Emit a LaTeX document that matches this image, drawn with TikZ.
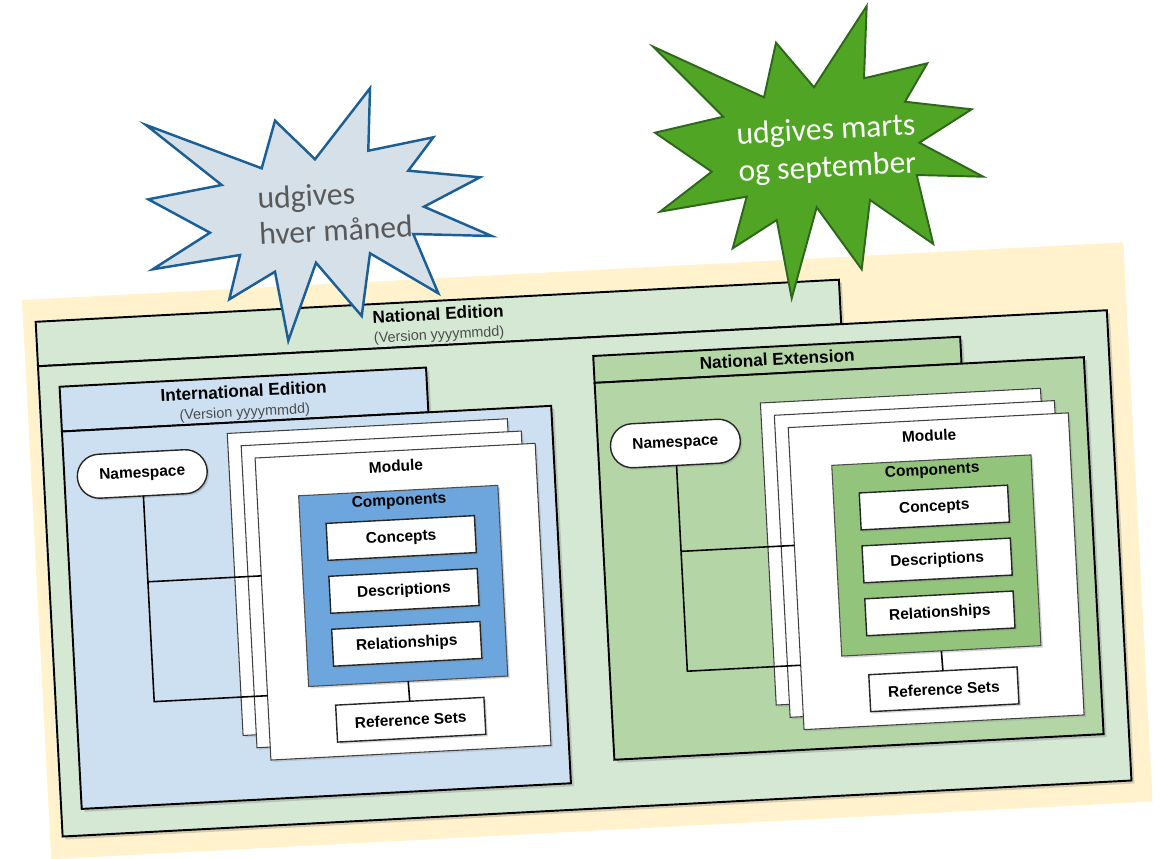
\documentclass[tikz,border=0pt]{standalone}
\usepackage{fontspec}
\setmainfont{Liberation Sans}
\newfontfamily\starfont{Carlito}
\usetikzlibrary{shadows}
\definecolor{bgyellow}{HTML}{FFF2CC}
\definecolor{natgreen}{HTML}{D5E8D4}
\definecolor{extgreen}{HTML}{B4D5A6}
\definecolor{extcomp}{HTML}{92C47C}
\definecolor{intblue}{HTML}{CDE0F2}
\definecolor{intcomp}{HTML}{6CA6DC}
\definecolor{bstarfill}{HTML}{D6E0E8}
\definecolor{bstarline}{HTML}{1C5F94}
\definecolor{gstarfill}{HTML}{50A624}
\definecolor{gstarline}{HTML}{2E661C}
\definecolor{startext}{HTML}{595959}
\tikzset{
  shad/.style={drop shadow={shadow xshift=0.06cm, shadow yshift=-0.06cm, opacity=0.35}},
  frame/.style={draw=black, line width=1.1pt, inner sep=0pt, outer sep=0pt, anchor=north west, shad},
  page/.style={draw=black!75, line width=0.6pt, fill=white, inner sep=0pt, outer sep=0pt, anchor=north west,
    minimum width=5.61cm, minimum height=6.05cm,
    drop shadow={shadow xshift=0.04cm, shadow yshift=-0.04cm, opacity=0.25}},
  comp/.style={draw=black!70, line width=0.6pt, inner sep=0pt, outer sep=0pt, anchor=north west,
    minimum width=3.99cm, minimum height=3.82cm,
    drop shadow={shadow xshift=0.04cm, shadow yshift=-0.04cm, opacity=0.3}},
  item/.style={draw=black!85, line width=0.8pt, fill=white, inner sep=0pt, outer sep=0pt, anchor=north west,
    minimum width=2.97cm, minimum height=0.74cm, font=\fontsize{8.8}{10}\selectfont\bfseries,
    drop shadow={shadow xshift=0.04cm, shadow yshift=-0.04cm, opacity=0.3}},
  nsbox/.style={draw=black!85, line width=0.8pt, fill=white, inner sep=0pt, outer sep=0pt,
    minimum width=2.6cm, minimum height=0.88cm, rounded corners=0.44cm, font=\fontsize{8.8}{10}\selectfont\bfseries,
    drop shadow={shadow xshift=0.04cm, shadow yshift=-0.04cm, opacity=0.3}},
  lbl/.style={inner sep=0pt, font=\fontsize{8.8}{10}\selectfont\bfseries},
  ttl/.style={inner sep=0pt, font=\fontsize{9.8}{11}\selectfont\bfseries},
  ver/.style={inner sep=0pt, text=black!70, font=\fontsize{8.2}{9}\selectfont},
  conn/.style={draw=black, line width=0.9pt},
  bluestar/.style={draw=bstarline, fill=bstarfill, line width=1.4pt, line join=miter},
  greenstar/.style={draw=gstarline, fill=gstarfill, line width=1.1pt, line join=miter},
  startxt/.style={inner sep=0pt, align=left, rotate=3},
}
\newcommand{\mystack}[2]{%
  \node[page] (#1p1) at (198,144) {};
  \node[page] (#1p2) at (211.25,157) {};
  \node[page] (#1p3) at (224.5,170) {};
  \node[lbl] (#1mod) at (364.75,185.5) {Module};
  \node[comp, fill=#2] (#1comp) at (266,210) {};
  \node[lbl] (#1complbl) at (366,221) {Components};
  \node[item] (#1con) at (292,239) {Concepts};
  \node[item] (#1des) at (292,292) {Descriptions};
  \node[item] (#1rel) at (292,345) {Relationships};
  \node[item] (#1ref) at (292,421) {Reference Sets};
  \draw[conn] (#1comp.south) -- (#1ref.north);
  \node[nsbox] (#1ns) at (111,180) {Namespace};
  \coordinate (#1a) at (111,288);
  \coordinate (#1b) at (111,408);
  \coordinate (#1ae) at (224.5,288);
  \coordinate (#1be) at (224.5,408);
  \draw[conn] (#1ns.south) -- (#1b) -- (#1be);
  \draw[conn] (#1a) -- (#1ae);
}
\begin{document}
\begin{tikzpicture}[x=0.02cm, y=-0.02cm]
\useasboundingbox (0,0) rectangle (1160,859);
\fill[white] (0,0) rectangle (1160,859);
\begin{scope}[shift={(22,300)}, rotate=3, transform shape]
  % background
  \node[fill=bgyellow, inner sep=0pt, outer sep=0pt, anchor=north west, minimum width=22.06cm, minimum height=11.2cm] (bg) at (0,0) {};
  % National Edition
  \node[frame, fill=natgreen, minimum width=16.09cm, minimum height=0.89cm] (natTab) at (12.5,22.5) {};
  \node[frame, fill=natgreen, minimum width=21.41cm, minimum height=9.42cm] (natBody) at (12.5,67) {};
  \node[ttl] (natT) at (414.75,35.5) {National Edition};
  \node[ver] (natV) at (414.75,57.5) {(Version yyyymmdd)};
  % International Edition
  \node[frame, fill=intblue, minimum width=7.34cm, minimum height=0.896cm] (intTab) at (33,88.6) {};
  \node[frame, fill=intblue, minimum width=9.8cm, minimum height=7.56cm] (intBody) at (33,133.4) {};
  \node[ttl] (intT) at (216.5,102.5) {International Edition};
  \node[ver] (intV) at (216.5,124.5) {(Version yyyymmdd)};
  % National Extension
  \node[frame, fill=extgreen, minimum width=7.35cm, minimum height=0.54cm] (extTab) at (567.5,85.8) {};
  \node[frame, fill=extgreen, minimum width=9.8cm, minimum height=7.55cm] (extBody) at (567.5,112.7) {};
  \node[ttl] (extT) at (751,98.5) {National Extension};
  % module stacks
  \mystack{i}{intcomp}
  \begin{scope}[shift={(534,-2.5)}]
    \mystack{e}{extcomp}
  \end{scope}
\end{scope}
% starbursts
\draw[bluestar] (370,88.3) -- (368.3,150.7) -- (433.3,137.3) -- (408.3,170.7) -- (480,177.3) -- (424,206.7)
  -- (491.7,236) -- (413.3,234) -- (438.3,293.3) -- (370,253.3) -- (361.7,316) -- (316,262.7)
  -- (288.3,340.7) -- (275,271.7) -- (229.3,299.3) -- (240,255) -- (152.7,269.3) -- (210,232.7)
  -- (148.3,199.3) -- (221.7,185) -- (146,125) -- (261.7,168.3) -- (275,120.7) -- (315,159.3) -- cycle;
\node[startxt, text=startext, font=\starfont\fontsize{18}{20.5}\selectfont] (bstarT) at (335,212) {udgives\\hver måned};
\draw[greenstar] (866.7,6) -- (864,78.3) -- (927.3,63.3) -- (905,101.7) -- (971.7,109.3) -- (919.3,142.7)
  -- (983.3,176.7) -- (916.7,175) -- (933.3,244) -- (870,200) -- (861.7,269.3) -- (816.7,207.3)
  -- (791.7,298.3) -- (776.7,220) -- (732.7,248.3) -- (746.7,196.7) -- (660,211.7) -- (711.7,171.7)
  -- (655,132.7) -- (723.3,116.7) -- (653.3,46.7) -- (764,97.3) -- (776,42.7) -- (814,87.3) -- cycle;
\node[startxt, text=white, font=\starfont\fontsize{18}{21.5}\selectfont] (gstarT) at (827,150) {udgives marts\\og september};
\end{tikzpicture}
\end{document}
